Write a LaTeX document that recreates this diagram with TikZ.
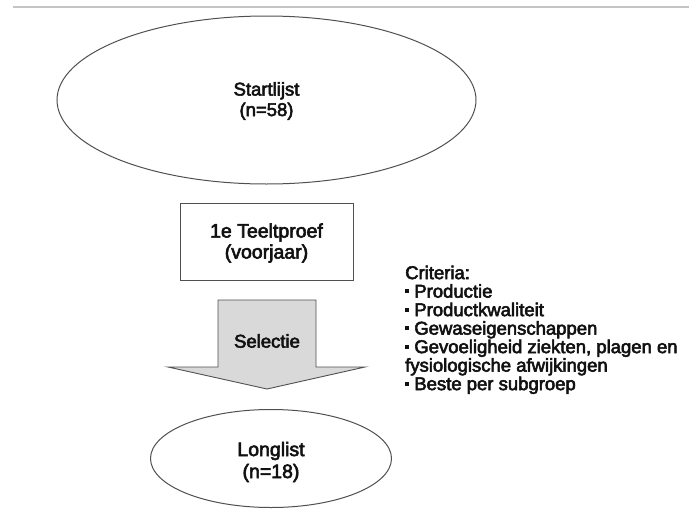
\documentclass[tikz,border=0pt]{standalone}
\usepackage{fontspec}
\setmainfont{Liberation Sans}
\newfontfamily\heavy{Liberation Sans}[FakeBold=3]
\usetikzlibrary{shapes.geometric}
\definecolor{edgegray}{HTML}{505050}
\definecolor{rulegray}{HTML}{C4C4C4}
\definecolor{arrowfill}{HTML}{D9D9D9}
\definecolor{txt}{HTML}{111111}
\newcommand{\bul}{\rule[4.5pt]{4pt}{4pt}}
\begin{document}
\begin{tikzpicture}[x=1pt,y=-1pt,
  oval/.style={ellipse, draw=edgegray, line width=1pt, inner sep=0pt, align=center},
  boxnode/.style={rectangle, draw=edgegray, line width=0.9pt, inner sep=0pt, align=center},
  lbl/.style={font=\heavy\fontsize{18.5}{20.5}\selectfont, text=txt, align=center, inner sep=0pt}]
\useasboundingbox (0,0) rectangle (689,509);
\fill[white] (0,0) rectangle (689,509);
\coordinate (ruleL) at (13,7);
\coordinate (ruleR) at (689,7);
\draw[rulegray, line width=1.2pt] (ruleL) -- (ruleR);

\node[oval, minimum width=419pt, minimum height=168pt] (start) at (266.5,100) {};
\node[lbl] (startlbl) at (266.5,101) {Startlijst\\(n=58)};

\node[boxnode, minimum width=173pt, minimum height=77pt] (proef) at (266.5,241.5) {};
\node[lbl, font=\heavy\fontsize{19.5}{21}\selectfont] (proeflbl) at (266.5,243) {1e Teeltproef\\(voorjaar)};

\coordinate (a1) at (218,300);
\coordinate (a2) at (316,300);
\coordinate (a3) at (316,367);
\coordinate (a4) at (365,367);
\coordinate (a5) at (267,389);
\coordinate (a6) at (168,367);
\coordinate (a7) at (218,367);
\draw[fill=arrowfill, draw=edgegray, line width=0.9pt, line join=miter]
  (a1) -- (a2) -- (a3) -- (a4) -- (a5) -- (a6) -- (a7) -- cycle;
\node[lbl] (sel) at (267,341) {Selectie};

\node[oval, minimum width=241pt, minimum height=98pt] (long) at (271,458.5) {};
\node[lbl, font=\heavy\fontsize{19.5}{22}\selectfont] (longlbl) at (271,462) {Longlist\\(n=18)};

\node[anchor=north west, inner sep=0pt, align=left, text=txt,
  font=\heavy\fontsize{18.5}{18.5}\selectfont] (crit) at (405,265.5)
  {Criteria:\\
   \bul\ Productie\\
   \bul\ Productkwaliteit\\
   \bul\ Gewaseigenschappen\\
   \bul\ Gevoeligheid ziekten, plagen en\\
   fysiologische afwijkingen\\
   \bul\ Beste per subgroep};
\end{tikzpicture}
\end{document}
